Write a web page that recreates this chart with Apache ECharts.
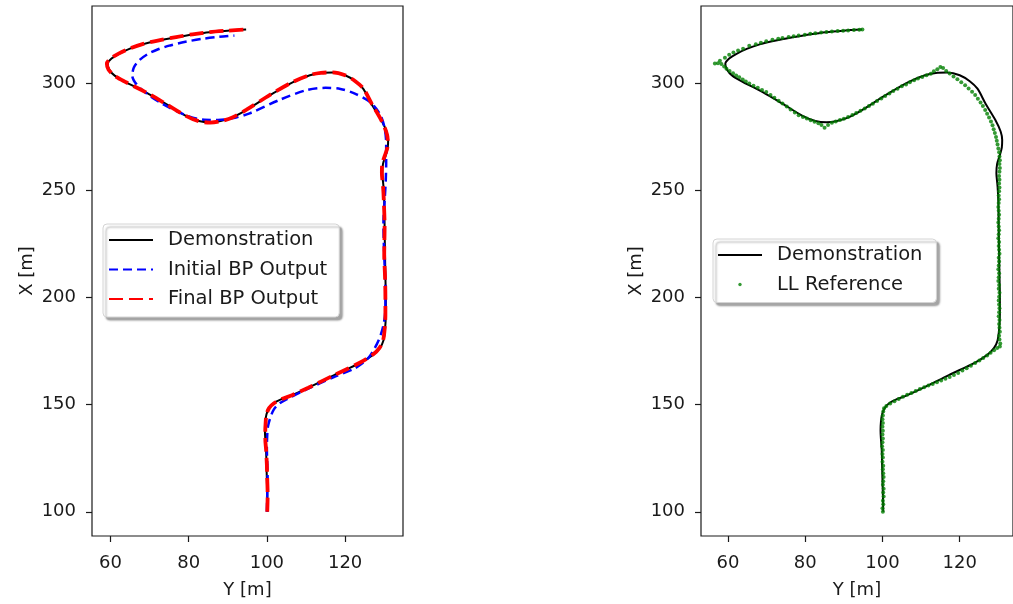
<!DOCTYPE html>
<html>
<head>
<meta charset="utf-8">
<script src="https://cdn.jsdelivr.net/npm/echarts@6.0.0/dist/echarts.min.js"></script>
<style>
  html, body { margin: 0; padding: 0; background: #fff; }
  #main { width: 1013px; height: 604px; }
</style>
</head>
<body>
<div id="main"></div>
<script>
// points are [Y (m), X (m)]
const demonstration = [
  [100.2,100],[100.1,108],[100.0,115],[99.9,122],[99.8,129],[99.6,134],[99.5,138],[99.6,142],
  [99.9,145.5],[100.6,148.5],[101.8,150.8],[103.6,152.5],[106.2,154.2],[110.5,157.8],[117.2,163.8],
  [124.1,169.8],[127.3,173.5],[128.9,176.5],[129.8,180],[130.2,185],[130.4,192],[130.4,200],
  [130.3,210],[130.2,220],[130.1,233],[130.0,245],[129.8,252],[129.5,258],[129.7,262.5],
  [130.4,266.5],[130.9,270],[131.0,273.5],[130.6,277.5],[129.2,283],[126.7,290.5],[124.6,297.5],
  [122.6,301],[120.0,303.8],[116.8,305],[113.8,304.8],[111.0,303.8],[106.7,300.6],[100.7,294.4],
  [94.7,287.5],[91.2,284.1],[88.2,282.4],[85.5,281.8],[82.6,282.4],[79.3,284.8],[74.2,290.4],
  [69.1,295.8],[63.9,300.6],[61.1,303.6],[59.7,306.5],[59.3,309.2],[60.3,311.6],[62.2,313.8],
  [65.0,316.2],[68.2,318.2],[72.4,320.0],[76.8,321.5],[81.0,322.8],[85.3,323.9],[90.0,324.6],
  [94.7,325.1]
];

const initialBP = [
  [100.0,100],[100.1,108],[100.2,115],[100.1,122],[100.0,130],[100.1,136],[100.3,140],[100.9,144],
  [101.8,147.8],[103.2,150.5],[105.0,152.5],[110.0,157],[117.0,162.8],[122.5,167],[125.8,171.5],
  [127.6,176.5],[129.0,182],[129.9,188],[130.3,195],[130.3,205],[130.1,215],[129.9,225],
  [129.8,235],[130.1,245],[130.4,255],[130.5,263],[130.5,272],[130.0,280],[128.8,286],
  [126.2,291.5],[122.5,295.2],[118.8,297.4],[115.0,297.9],[110.1,296.8],[103.3,292.3],
  [95.6,286.0],[91.5,283.8],[87.5,282.9],[84.0,283.0],[79.3,285.1],[73.3,290.4],[69.3,295.2],
  [66.7,299.5],[65.6,303.5],[66.0,307.4],[67.4,310.8],[69.6,313.7],[72.2,315.9],[75.3,317.7],
  [79.2,319.4],[83.6,320.8],[87.8,321.7],[91.7,322.3]
];

const finalBP = [
  [100.1,100],[100.2,108],[100.1,115],[100.0,122],[99.8,129],[99.6,134],[99.6,138],[99.7,142],
  [99.9,145.5],[100.6,148.5],[101.9,150.8],[103.8,152.6],[106.4,154.4],[110.6,157.9],[117.3,163.9],
  [124.0,169.8],[127.2,173.5],[128.8,176.5],[129.7,180],[130.1,185],[130.3,192],[130.3,200],
  [130.2,210],[130.0,220],[130.1,233],[129.9,245],[129.7,252],[129.4,258],[129.5,262.5],
  [130.2,266.5],[130.8,270],[130.9,273.5],[130.5,277.5],[129.2,283],[126.8,290.5],[124.7,297.5],
  [122.6,301],[120.0,303.8],[116.8,305.1],[113.8,304.9],[111.0,303.9],[106.7,300.7],[100.7,294.5],
  [94.7,287.6],[91.2,284.1],[88.2,282.3],[85.5,281.7],[82.6,282.3],[79.3,284.8],[74.2,290.4],
  [69.1,295.8],[63.9,300.6],[61.0,303.6],[59.5,306.5],[59.1,309.2],[60.1,311.6],[62.1,313.9],
  [65.0,316.3],[68.2,318.3],[72.4,320.1],[76.8,321.6],[81.0,322.9],[85.3,323.9],[90.0,324.6],
  [94.6,325.1]
];

const llReference = [
  [100.1,100.0],[100.0,101.6],[100.2,103.5],[100.1,105.2],[100.3,107.1],[100.2,109.0],[100.3,110.7],
  [100.1,112.6],[100.2,114.3],[100.3,116.2],[100.2,118.0],[100.1,119.9],[100.2,121.5],[100.0,123.4],
  [100.1,125.3],[100.0,127.0],[100.1,128.9],[99.9,130.6],[100.0,132.5],[100.1,134.2],[100.0,136.1],
  [100.1,137.8],[100.0,139.7],[100.1,141.5],[100.0,143.2],[100.1,145.0],[100.2,146.8],[100.4,148.3],
  [101.0,149.4],[102.0,150.5],[103.1,151.6],[104.2,152.7],[105.3,153.7],[106.4,154.6],[107.5,155.5],
  [108.6,156.4],[109.7,157.3],[110.8,158.1],[111.9,158.9],[113.0,159.7],[114.1,160.5],[115.2,161.3],
  [116.3,162.1],[117.4,162.9],[118.5,163.8],[119.6,164.8],[120.7,165.9],[121.8,167.0],[122.9,168.2],
  [124.0,169.4],[125.1,170.6],[126.1,171.8],[127.1,173.0],[128.0,174.2],[128.9,175.4],[129.7,176.5],
  [130.4,177.2],
  [130.5,178.6],[130.3,180.4],[130.2,182.2],[130.4,184.0],[130.3,185.9],[130.2,187.7],[130.3,189.5],
  [130.1,191.3],[130.2,193.1],[130.3,195.0],[130.2,196.8],[130.1,198.6],[130.2,200.4],[130.3,202.2],
  [130.1,204.1],[130.2,205.9],[130.0,207.7],[130.1,209.5],[130.2,211.3],[130.0,213.2],[130.1,215.0],
  [130.2,216.8],[130.1,218.6],[130.3,220.4],[130.2,222.3],[130.1,224.1],[130.2,225.9],[130.0,227.7],
  [130.1,229.5],[130.2,231.4],[130.1,233.2],[130.0,235.0],[130.1,236.8],[130.2,238.6],[130.1,240.5],
  [130.0,242.3],[130.1,244.1],[130.2,245.9],[130.1,247.7],[130.2,249.6],[130.3,251.4],[130.2,253.2],
  [130.3,255.0],[130.2,256.8],[130.3,258.7],[130.4,260.5],[130.3,262.3],[130.4,264.1],[130.3,265.9],
  [130.2,267.8],[130.0,269.6],[129.8,271.4],[129.6,273.2],[129.4,275.0],[129.1,276.8],[128.8,278.6],
  [128.5,280.4],[128.1,282.2],[127.6,284.0],[127.1,285.8],[126.6,287.6],[126.0,289.4],[125.4,291.1],
  [124.7,292.8],[124.0,294.5],[123.2,296.1],[122.3,297.6],[121.4,299.1],[120.4,300.5],[119.4,301.9],
  [118.4,303.2],[117.4,304.6],[116.5,305.8],[115.7,307.2],[115.0,307.6],[114.2,306.6],[113.3,305.7],
  [112.5,304.5],[111.4,303.8],[110.3,303.0],[109.2,302.2],[108.2,301.4],[107.1,300.5],[106.1,299.5],
  [105.0,298.6],[103.9,297.5],[102.8,296.4],[101.8,295.2],[100.7,294.1],[99.7,292.9],[98.6,291.7],
  [97.5,290.5],[96.5,289.4],[95.4,288.2],[94.3,287.2],[93.2,286.2],[92.2,285.2],[91.1,284.3],
  [90.0,283.5],[89.0,282.9],[87.9,282.2],[86.9,281.6],[85.9,280.5],[85.0,279.3],[84.2,280.6],
  [83.4,281.4],[82.4,282.1],[81.4,282.8],[80.4,283.6],[79.4,284.3],[78.3,285.1],[77.3,286.4],
  [76.2,287.8],[75.2,289.2],[74.1,290.6],[73.1,291.9],[72.0,293.3],[71.0,294.6],[69.9,296.0],
  [68.8,296.9],[67.7,297.9],[66.6,298.9],[65.5,299.9],[64.6,300.9],[63.8,301.8],[62.9,302.8],
  [62.1,303.7],[61.3,304.7],[60.4,305.8],[59.6,306.8],[59.0,307.9],[58.3,309.0],[57.4,309.4],
  [56.6,309.3],[57.9,310.5],[59.2,312.0],[60.3,313.3],[61.4,314.4],[62.6,315.3],[63.9,316.2],
  [65.5,317.5],[67.2,318.3],[68.5,318.9],[69.9,319.6],[71.5,320.3],[73.0,320.8],[74.1,321.2],
  [75.7,321.6],[77.0,322.0],[78.3,322.3],[79.9,322.7],[81.3,323.1],[82.6,323.4],[84.1,323.7],
  [85.5,324.0],[86.9,324.2],[88.4,324.4],[89.8,324.6],[91.1,324.7],[92.6,324.9],[94.0,325.0],
  [94.8,325.1]
];

const yTicks = [60, 80, 100, 120];
const xTicks = [100, 150, 200, 250, 300];

const font = 'DejaVu Sans';
const ink = '#1a1a1a';
const green = '#008000';

function xAxisFor(gridIndex, min, max) {
  return {
    type: 'value', gridIndex: gridIndex, min: min, max: max,
    name: 'Y [m]', nameLocation: 'middle', nameGap: 45,
    nameTextStyle: { fontFamily: font, fontSize: 18, color: ink },
    axisLine: { show: false },
    axisTick: { show: true, length: 6, lineStyle: { color: ink, width: 1.2 }, customValues: yTicks },
    axisLabel: { fontFamily: font, fontSize: 18, color: ink, margin: 18, customValues: yTicks },
    splitLine: { show: false }
  };
}

function yAxisFor(gridIndex) {
  return {
    type: 'value', gridIndex: gridIndex, min: 88.7, max: 336.1,
    name: 'X [m]', nameLocation: 'middle', nameGap: 56,
    nameTextStyle: { fontFamily: font, fontSize: 18, color: ink },
    axisLine: { show: false },
    axisTick: { show: true, length: 6, lineStyle: { color: ink, width: 1.2 }, customValues: xTicks },
    axisLabel: { fontFamily: font, fontSize: 18, color: ink, margin: 16, customValues: xTicks },
    splitLine: { show: false }
  };
}

const legendBase = {
  orient: 'vertical',
  itemWidth: 44,
  itemHeight: 14,
  itemGap: 9.5,
  backgroundColor: '#fff',
  borderColor: '#d4d4d4',
  borderWidth: 1,
  borderRadius: 4,
  shadowColor: 'rgba(0,0,0,0.35)',
  shadowBlur: 2,
  shadowOffsetX: 3,
  shadowOffsetY: 3,
  selectedMode: false,
  // hide the marker that line series put in the middle of their legend line
  itemStyle: { color: 'rgba(0,0,0,0)', borderColor: 'rgba(0,0,0,0)', borderWidth: 0 },
  textStyle: { fontFamily: font, fontSize: 19.5, color: ink, lineHeight: 20, padding: [0, 0, 0, 10] }
};

const chart = echarts.init(document.getElementById('main'), null, { renderer: 'canvas' });

chart.setOption({
  animation: false,
  backgroundColor: '#fff',
  grid: [
    { left: 92, top: 6, width: 311, height: 531, show: true, borderColor: ink, borderWidth: 1.2 },
    { left: 701, top: 6, width: 316, height: 531, show: true, borderColor: ink, borderWidth: 1.2 }
  ],
  xAxis: [xAxisFor(0, 55.3, 134.8), xAxisFor(1, 53.0, 133.8)],
  yAxis: [yAxisFor(0), yAxisFor(1)],
  legend: [
    Object.assign({}, legendBase, {
      left: 103, top: 224, padding: [6, 12, 8, 5],
      data: ['Demonstration', 'Initial BP Output', 'Final BP Output']
    }),
    Object.assign({}, legendBase, {
      left: 713, top: 239, padding: [6, 14, 8, 4],
      data: ['Demonstration', {
        name: 'LL Reference',
        icon: 'path://M0,0 M44,14 M20.3,7 a1.7,1.7 0 1,0 3.4,0 a1.7,1.7 0 1,0 -3.4,0 Z',
        itemStyle: { color: green, borderWidth: 0 }
      }]
    })
  ],
  series: [
    {
      name: 'Demonstration', type: 'line', xAxisIndex: 0, yAxisIndex: 0,
      data: demonstration, symbol: 'none', smooth: 0.3, z: 2,
      lineStyle: { color: '#000', width: 2 }, itemStyle: { color: '#000' }
    },
    {
      name: 'Initial BP Output', type: 'line', xAxisIndex: 0, yAxisIndex: 0,
      data: initialBP, symbol: 'none', smooth: 0.3, z: 3,
      lineStyle: { color: '#0000ff', width: 2.5, type: [9, 5] }, itemStyle: { color: '#0000ff' }
    },
    {
      name: 'Final BP Output', type: 'line', xAxisIndex: 0, yAxisIndex: 0,
      data: finalBP, symbol: 'none', smooth: 0.3, z: 4,
      lineStyle: { color: '#ff0000', width: 3.8, type: [14, 6] }, itemStyle: { color: '#ff0000' }
    },
    {
      name: 'Demonstration', type: 'line', xAxisIndex: 1, yAxisIndex: 1,
      data: demonstration, symbol: 'none', smooth: 0.3, z: 2,
      lineStyle: { color: '#000', width: 2 }, itemStyle: { color: '#000' }
    },
    {
      name: 'LL Reference', type: 'scatter', xAxisIndex: 1, yAxisIndex: 1,
      data: llReference, symbol: 'circle', symbolSize: 4, z: 5,
      itemStyle: { color: green }
    }
  ]
});
</script>
</body>
</html>
